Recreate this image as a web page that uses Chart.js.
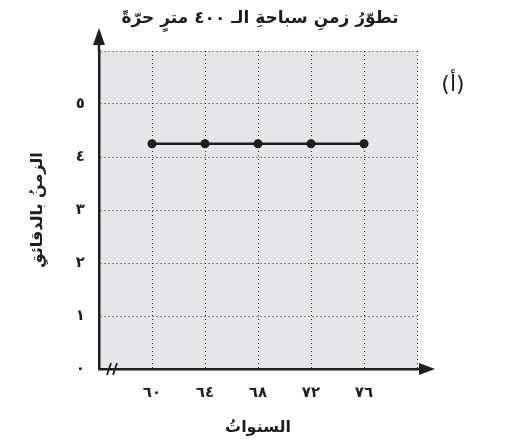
<!DOCTYPE html>
<html>
<head>
<meta charset="utf-8">
<script src="https://cdn.jsdelivr.net/npm/chart.js@4"></script>
<style>
  html, body { margin: 0; padding: 0; background: #fff; }
  #wrap { width: 507px; height: 443px; }
</style>
</head>
<body>
<div id="wrap"><canvas id="c" width="507" height="443"></canvas></div>
<script>
// ---- DADOS ----
var years  = [60, 64, 68, 72, 76];
var times  = [4.25, 4.25, 4.25, 4.25, 4.25];
var xTickLabels = ['٦٠', '٦٤', '٦٨', '٧٢', '٧٦'];
var yTickLabels = ['٠', '١', '٢', '٣', '٤', '٥'];
var chartTitle = 'تطوّرُ زمنِ سباحةِ الـ ٤٠٠ مترٍ حرّةً';
var xTitle = 'السنواتُ';
var yTitle = 'الزمنُ بالدقائقِ';
var partLabel = '(أ)';

var FONT = '"DejaVu Sans", sans-serif';
var INK = '#1e1e1e';

// ---- PLUGIN: fundo, titulo, setas, quebra do eixo ----
var decor = {
  id: 'decor',
  beforeDraw: function(chart) {
    var a = chart.chartArea, ctx = chart.ctx;
    ctx.save();
    ctx.fillStyle = '#e6e6e8';
    ctx.fillRect(a.left, a.top, a.right - a.left, a.bottom - a.top);
    ctx.restore();
  },
  afterDraw: function(chart) {
    var a = chart.chartArea, ctx = chart.ctx;
    ctx.save();
    ctx.strokeStyle = INK;
    ctx.fillStyle = INK;
    ctx.lineWidth = 2.5;
    // eixo y: prolonga e seta
    ctx.beginPath();
    ctx.moveTo(a.left, a.top);
    ctx.lineTo(a.left, a.top - 10);
    ctx.stroke();
    ctx.beginPath();
    ctx.moveTo(a.left, a.top - 23);
    ctx.lineTo(a.left - 6, a.top - 6);
    ctx.lineTo(a.left + 6, a.top - 6);
    ctx.closePath();
    ctx.fill();
    // eixo x: prolonga e seta
    ctx.beginPath();
    ctx.moveTo(a.right, a.bottom);
    ctx.lineTo(a.right + 6, a.bottom);
    ctx.stroke();
    ctx.beginPath();
    ctx.moveTo(a.right + 18, a.bottom);
    ctx.lineTo(a.right + 2, a.bottom - 6);
    ctx.lineTo(a.right + 2, a.bottom + 6);
    ctx.closePath();
    ctx.fill();
    // quebra //
    ctx.lineWidth = 1.8;
    [10, 16].forEach(function(dx) {
      ctx.beginPath();
      ctx.moveTo(a.left + dx - 2, a.bottom + 6);
      ctx.lineTo(a.left + dx + 2, a.bottom - 6);
      ctx.stroke();
    });
    // titulo
    ctx.textAlign = 'center';
    ctx.textBaseline = 'middle';
    ctx.font = 'bold 17px ' + FONT;
    ctx.fillText(chartTitle, 260, 19);
    // (أ)
    ctx.font = '22px ' + FONT;
    ctx.fillText(partLabel, 453, 85);
    ctx.restore();
  }
};

new Chart(document.getElementById('c'), {
  type: 'line',
  data: {
    datasets: [{
      data: years.map(function(y, i) { return { x: y, y: times[i] }; }),
      borderColor: INK,
      backgroundColor: INK,
      borderWidth: 2.5,
      pointRadius: 4.5,
      pointBackgroundColor: INK,
      pointBorderWidth: 0,
      tension: 0
    }]
  },
  options: {
    responsive: false,
    animation: false,
    layout: { padding: { left: 0, right: 90, top: 51, bottom: 0 } },
    plugins: {
      legend: { display: false },
      tooltip: { enabled: false },
      title: { display: false }
    },
    scales: {
      x: {
        type: 'linear', min: 56, max: 80,
        afterFit: function(s) { s.height = 74; },
        ticks: {
          stepSize: 4, color: INK, padding: 15,
          font: { family: FONT, size: 15, weight: 'bold' },
          callback: function(v) {
            var i = years.indexOf(v);
            return i >= 0 ? xTickLabels[i] : '';
          }
        },
        grid: { color: '#222', lineWidth: 1, drawTicks: false },
        border: { display: true, color: INK, width: 2.5, dash: [1, 3] },
        title: {
          display: true, text: xTitle, color: INK,
          font: { family: FONT, size: 16, weight: 'bold' },
          padding: { bottom: 6 }
        }
      },
      y: {
        min: 0, max: 6,
        afterFit: function(s) { s.width = 99; },
        ticks: {
          stepSize: 1, color: INK, padding: 14,
          font: { family: FONT, size: 15, weight: 'bold' },
          callback: function(v) { return yTickLabels[v] || ''; }
        },
        grid: { color: '#222', lineWidth: 1, drawTicks: false },
        border: { display: true, color: INK, width: 2.5, dash: [1, 3] },
        title: {
          display: true, text: yTitle, color: INK,
          font: { family: FONT, size: 16, weight: 'bold' },
          padding: { top: 28 }
        }
      }
    }
  },
  plugins: [decor]
});
</script>
</body>
</html>
